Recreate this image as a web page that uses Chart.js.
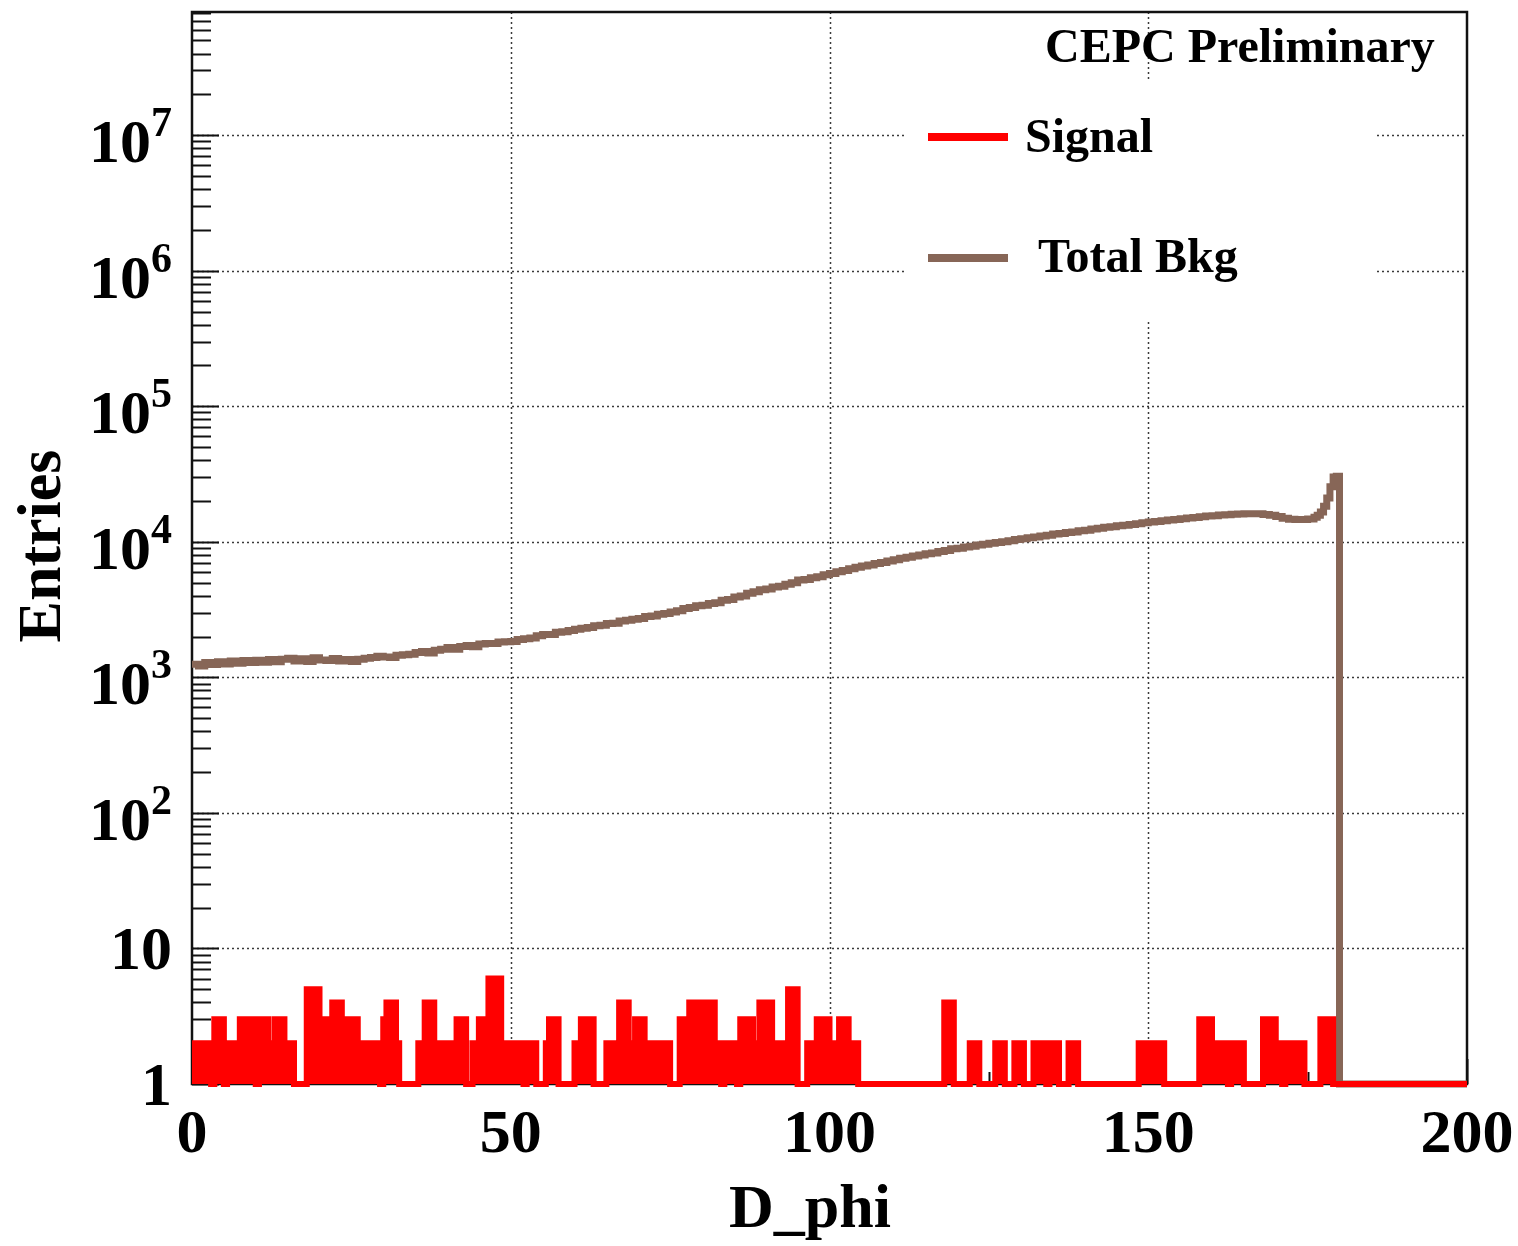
<!DOCTYPE html>
<html>
<head>
<meta charset="utf-8">
<script src="https://cdn.jsdelivr.net/npm/chart.js@4.4.0/dist/chart.umd.min.js"></script>
<style>
body { margin: 0; background: #fff; }
canvas { display: block; }
</style>
</head>
<body>
<canvas id="chartcontainer" width="1518" height="1246"></canvas>
<script>
// signal : debut de chaque palier et contenu (le contenu tient jusqu'au debut suivant)
var sigX = [0, 3, 3.5, 5, 5.5, 7.5, 10, 10.5, 12, 13, 14.5, 16, 18, 20, 22, 23.5, 26, 29.5, 30, 30.5,
            32, 32.5, 35.5, 36.5, 38, 41.5, 43, 44, 45, 46.5, 48.5, 52, 52.5, 54, 55.5, 56, 57.5, 60, 61, 63,
            65, 67, 68.5, 69.5, 71, 75, 76.5, 78, 82, 83, 83.5, 85.5, 86, 88, 89, 91, 93.5, 95, 96.5, 98,
            100, 101.5, 103, 104.5, 118, 119.5, 122, 123.5, 126, 127.5, 129, 130.5, 132, 134, 134.5, 136, 137.5, 139, 148.5, 152.5,
            158, 160, 162.5, 163, 165, 168, 170, 171, 171.5, 174.5, 177, 179, 200];
var sigY = [2, 1, 3, 1, 2, 3, 1, 3, 2, 3, 2, 1, 5, 3, 4, 3, 2, 1, 3, 4,
            2, 1, 2, 4, 2, 3, 1, 2, 3, 6, 2, 1, 2, 1, 2, 3, 1, 2, 3, 1,
            2, 4, 2, 3, 2, 1, 3, 4, 2, 1, 2, 1, 3, 2, 4, 2, 5, 1, 2, 3,
            2, 3, 2, 1, 4, 1, 2, 1, 2, 1, 2, 1, 2, 1, 2, 1, 2, 1, 2, 1,
            3, 2, 1, 2, 1, 3, 2, 1, 2, 1, 3, 1, 1];

// bruit de fond total : bins de 1 entre 0 et 176
var bkgY = [1250, 1215, 1285, 1245, 1305, 1255, 1318, 1270, 1330, 1285,
            1338, 1290, 1355, 1305, 1362, 1385, 1320, 1372, 1310, 1395,
            1345, 1330, 1380, 1318, 1352, 1310, 1362, 1385, 1398, 1432,
            1410, 1398, 1458, 1470, 1482, 1525, 1552, 1515, 1585, 1610,
            1660, 1615, 1692, 1720, 1685, 1760, 1780, 1775, 1825, 1830,
            1835, 1905, 1930, 1950, 2025, 2070, 2075, 2150, 2170, 2220,
            2265, 2300, 2330, 2400, 2420, 2500, 2510, 2600, 2635, 2680,
            2720, 2815, 2830, 2920, 2960, 3040, 3100, 3220, 3270, 3380,
            3400, 3500, 3550, 3700, 3750, 3920, 3985, 4170, 4285, 4420,
            4480, 4640, 4700, 4870, 4980, 5220, 5280, 5440, 5530, 5720,
            5830, 6020, 6130, 6320, 6480, 6640, 6730, 6920, 7030, 7220,
            7360, 7570, 7680, 7870, 7980, 8170, 8280, 8470, 8630, 8870,
            8980, 9170, 9280, 9470, 9580, 9770, 9880, 10020, 10180, 10420,
            10530, 10720, 10830, 11020, 11180, 11420, 11530, 11720, 11830, 12070,
            12180, 12420, 12580, 12820, 12930, 13120, 13230, 13420, 13580, 13820,
            13980, 14120, 14280, 14470, 14580, 14820, 14980, 15120, 15280, 15520,
            15580, 15770, 15830, 15970, 16030, 16120, 16080, 16070, 15930, 15720,
            15380, 14920, 14680, 14620, 14580, 14730];
// le pic final, lu en demi-bins
var bkgPeakX = [176, 176.5, 177, 177.5, 178, 178.5, 179, 179.5, 180, 200];
var bkgPeakY = [15200, 15700, 16600, 18300, 21000, 25500, 30000, 30500, 1, 1];

var xMin = 0, xMax = 200;
var yMin = 1, yMax = 8.1e7;
var xTicks = [0, 50, 100, 150, 200];
var xTickLabels = ['0', '50', '100', '150', '200'];
var yDecades = [0, 1, 2, 3, 4, 5, 6, 7];
var yLabelBase = ['1', '10', '10', '10', '10', '10', '10', '10'];
var yLabelExp = ['', '', '2', '3', '4', '5', '6', '7'];

var red = '#ff0000';
var brown = 'rgb(135, 102, 87)';
var serif = '"Liberation Serif", "Times New Roman", serif';

function toPoints(xs, ys) {
    var pts = [];
    for (var i = 0; i < xs.length; i++) pts.push({x: xs[i], y: ys[i]});
    return pts;
}

var bkgPoints = [];
for (var i = 0; i < bkgY.length; i++) bkgPoints.push({x: i, y: bkgY[i]});
bkgPoints = bkgPoints.concat(toPoints(bkgPeakX, bkgPeakY));

function seg(ctx, x1, y1, x2, y2) {
    ctx.beginPath();
    ctx.moveTo(x1, y1);
    ctx.lineTo(x2, y2);
    ctx.stroke();
}

// cadre, grille, graduations et textes facon ROOT
var rootStyle = {
    id: 'rootStyle',
    beforeDatasetsDraw: function(chart) {
        var ctx = chart.ctx, xs = chart.scales.x, ys = chart.scales.y, a = chart.chartArea;
        ctx.save();
        ctx.strokeStyle = '#3a3a3a';
        ctx.lineWidth = 1.5;
        ctx.setLineDash([2, 3]);
        xTicks.forEach(function(v) {
            if (v <= xMin || v >= xMax) return;
            var px = Math.round(xs.getPixelForValue(v)) + 0.5;
            seg(ctx, px, a.top, px, a.bottom);
        });
        yDecades.forEach(function(d) {
            if (d == 0) return;
            var py = Math.round(ys.getPixelForValue(Math.pow(10, d))) + 0.5;
            seg(ctx, a.left, py, a.right, py);
        });
        ctx.setLineDash([]);
        // fond blanc de la legende
        ctx.fillStyle = '#fff';
        ctx.fillRect(905, 81, 470, 239);

        ctx.strokeStyle = '#111';
        ctx.lineWidth = 2.5;
        ctx.strokeRect(a.left, a.top, a.right - a.left, a.bottom - a.top);

        ctx.lineWidth = 2;
        for (var d = 0; d <= 7; d++) {
            for (var k = 1; k <= 9; k++) {
                var v = k * Math.pow(10, d);
                if (v > yMax) break;
                var py = Math.round(ys.getPixelForValue(v)) + 0.5;
                seg(ctx, a.left, py, a.left + (k == 1 ? 27 : 19), py);
            }
        }
        for (var t = xMin; t <= xMax; t += 25) {
            var px = Math.round(xs.getPixelForValue(t)) + 0.5;
            seg(ctx, px, a.bottom, px, a.bottom - (t % 50 == 0 ? 25 : 12));
        }
        ctx.restore();
    },
    afterDatasetsDraw: function(chart) {
        var ctx = chart.ctx, xs = chart.scales.x, ys = chart.scales.y, a = chart.chartArea;
        ctx.save();
        ctx.fillStyle = '#000';
        ctx.textBaseline = 'alphabetic';

        ctx.font = 'bold 62px ' + serif;
        ctx.textAlign = 'center';
        xTicks.forEach(function(v, i) {
            ctx.fillText(xTickLabels[i], xs.getPixelForValue(v), a.bottom + 68);
        });

        yDecades.forEach(function(d, i) {
            var py = ys.getPixelForValue(Math.pow(10, d));
            var right = 172;
            ctx.textAlign = 'right';
            if (yLabelExp[i] == '') {
                ctx.font = 'bold 62px ' + serif;
                ctx.fillText(yLabelBase[i], right, py + 21);
            } else {
                ctx.font = 'bold 42px ' + serif;
                ctx.fillText(yLabelExp[i], right, py + 1);
                var w = ctx.measureText(yLabelExp[i]).width;
                ctx.font = 'bold 62px ' + serif;
                ctx.fillText(yLabelBase[i], right - w, py + 27);
            }
        });

        ctx.font = 'bold 62px ' + serif;
        ctx.textAlign = 'center';
        ctx.fillText('D_phi', 810, 1227);

        ctx.save();
        ctx.translate(60, 546);
        ctx.rotate(-Math.PI / 2);
        ctx.fillText('Entries', 0, 0);
        ctx.restore();

        ctx.font = 'bold 48px ' + serif;
        ctx.textAlign = 'left';
        ctx.fillText('CEPC Preliminary', 1045, 62);

        ctx.lineWidth = 8;
        ctx.strokeStyle = red;
        seg(ctx, 928, 137, 1008, 137);
        ctx.strokeStyle = brown;
        seg(ctx, 928, 258, 1008, 258);
        ctx.fillText('Signal', 1025, 152);
        ctx.fillText('Total Bkg', 1038, 272);
        ctx.restore();
    }
};

var data_for_chart = {
    datasets: [{
        label: 'Signal',
        data: toPoints(sigX, sigY),
        stepped: 'before',
        borderColor: red,
        backgroundColor: red,
        borderWidth: 6,
        fill: 'start',
        pointRadius: 0,
        clip: 10
    }, {
        label: 'Total Bkg',
        data: bkgPoints,
        stepped: 'before',
        borderColor: brown,
        backgroundColor: brown,
        borderWidth: 7,
        fill: false,
        pointRadius: 0,
        clip: 10
    }]
};

var options = {
    responsive: false,
    animation: false,
    layout: {
        padding: {left: 192, right: 51, top: 12, bottom: 162}
    },
    plugins: {
        legend: {display: false},
        tooltip: {enabled: false},
        title: {display: false}
    },
    scales: {
        x: {type: 'linear', min: xMin, max: xMax, display: false},
        y: {type: 'logarithmic', min: yMin, max: yMax, display: false}
    }
};

var ctx = document.getElementById('chartcontainer').getContext('2d');
var chart = new Chart(ctx, {
    type: 'line',
    data: data_for_chart,
    options: options,
    plugins: [rootStyle]
});
</script>
</body>
</html>
